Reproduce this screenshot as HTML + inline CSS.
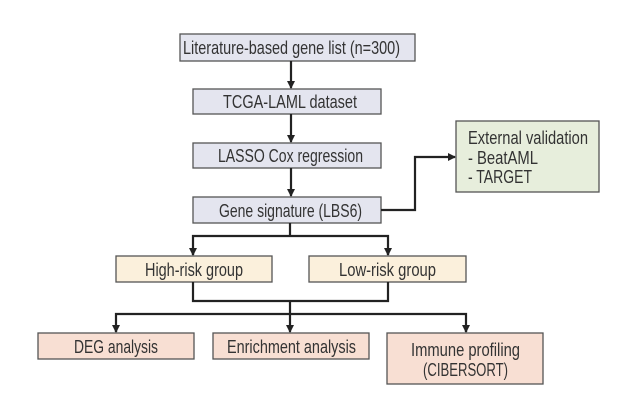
<!DOCTYPE html>
<html><head><style>
html,body{margin:0;padding:0;background:#fff;}
svg{display:block;}
text{font-family:"Liberation Sans",sans-serif;font-size:18px;fill:#333;}
</style></head><body>
<svg width="634" height="418" viewBox="0 0 634 418" xmlns="http://www.w3.org/2000/svg">
<defs><marker id="a" markerWidth="8" markerHeight="8" refX="7" refY="4" orient="auto" markerUnits="userSpaceOnUse"><path d="M0,0 L8,4 L0,8 z" fill="#222"/></marker></defs>
<g stroke="#555" stroke-width="1.3">
<rect x="180" y="34" width="235" height="27" fill="#e4e5ef"/>
<rect x="193" y="89" width="188" height="25" fill="#e4e5ef"/>
<rect x="193" y="143" width="188" height="25" fill="#e4e5ef"/>
<rect x="193" y="197" width="188" height="26" fill="#e4e5ef"/>
<rect x="456" y="121" width="143" height="71" fill="#e7eedc"/>
<rect x="116" y="256" width="156" height="26" fill="#fbf0dc"/>
<rect x="309" y="256" width="157" height="26" fill="#fbf0dc"/>
<rect x="38" y="333" width="156" height="26" fill="#f8dfd3"/>
<rect x="213" y="333" width="156" height="26" fill="#f8dfd3"/>
<rect x="387" y="333" width="156" height="51" fill="#f8dfd3"/>
</g>
<g stroke="#222" stroke-width="2.2" fill="none">
<line x1="291" y1="61" x2="291" y2="88" marker-end="url(#a)"/>
<line x1="291" y1="114" x2="291" y2="142" marker-end="url(#a)"/>
<line x1="291" y1="168" x2="291" y2="196" marker-end="url(#a)"/>
<polyline points="381,210 415,210 415,157 455,157" marker-end="url(#a)"/>
<line x1="290" y1="223" x2="290" y2="236"/>
<polyline points="193,255 193,236 388,236 388,255"/>
<line x1="193" y1="248" x2="193" y2="255" marker-end="url(#a)"/>
<line x1="388" y1="248" x2="388" y2="255" marker-end="url(#a)"/>
<polyline points="193,282 193,301 388,301 388,282"/>
<line x1="290" y1="301" x2="290" y2="332" marker-end="url(#a)"/>
<polyline points="116,332 116,314 466,314 466,332"/>
<line x1="116" y1="325" x2="116" y2="332" marker-end="url(#a)"/>
<line x1="466" y1="325" x2="466" y2="332" marker-end="url(#a)"/>
</g>
<g>
<text x="183" y="54" textLength="217" lengthAdjust="spacingAndGlyphs">Literature-based gene list (n=300)</text>
<text x="223" y="108" textLength="134" lengthAdjust="spacingAndGlyphs">TCGA-LAML dataset</text>
<text x="218" y="162" textLength="145" lengthAdjust="spacingAndGlyphs">LASSO Cox regression</text>
<text x="219" y="217" textLength="143" lengthAdjust="spacingAndGlyphs">Gene signature (LBS6)</text>
<text x="468" y="144" textLength="120" lengthAdjust="spacingAndGlyphs">External validation</text>
<text x="468" y="164" textLength="70" lengthAdjust="spacingAndGlyphs">- BeatAML</text>
<text x="468" y="183" textLength="64" lengthAdjust="spacingAndGlyphs">- TARGET</text>
<text x="145" y="276" textLength="98" lengthAdjust="spacingAndGlyphs">High-risk group</text>
<text x="339" y="276" textLength="97" lengthAdjust="spacingAndGlyphs">Low-risk group</text>
<text x="74" y="353" textLength="84" lengthAdjust="spacingAndGlyphs">DEG analysis</text>
<text x="227" y="353" textLength="129" lengthAdjust="spacingAndGlyphs">Enrichment analysis</text>
<text x="411" y="356" textLength="109" lengthAdjust="spacingAndGlyphs">Immune profiling</text>
<text x="423" y="376" textLength="85" lengthAdjust="spacingAndGlyphs">(CIBERSORT)</text>
</g>
</svg>
</body></html>
